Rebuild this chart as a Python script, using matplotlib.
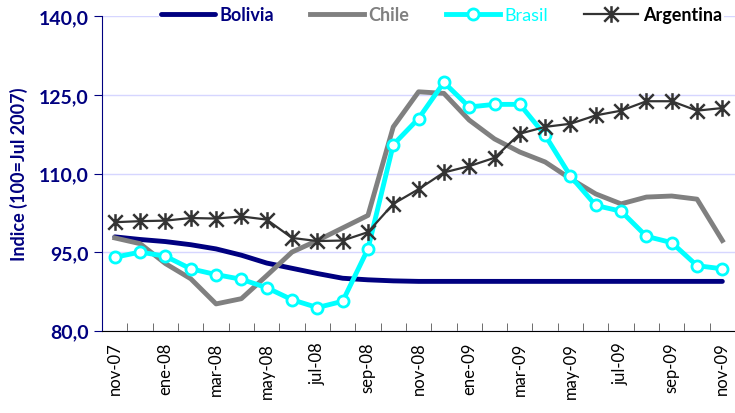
import numpy as np
import matplotlib.pyplot as plt
from matplotlib.path import Path

plt.rcParams['font.family'] = ['Lato', 'DejaVu Sans']

# months from nov-07 to nov-09
meses = ['nov-07', 'dic-07', 'ene-08', 'feb-08', 'mar-08', 'abr-08', 'may-08',
         'jun-08', 'jul-08', 'ago-08', 'sep-08', 'oct-08', 'nov-08', 'dic-08',
         'ene-09', 'feb-09', 'mar-09', 'abr-09', 'may-09', 'jun-09', 'jul-09',
         'ago-09', 'sep-09', 'oct-09', 'nov-09']
yticks = [80, 95, 110, 125, 140]

bolivia = [97.9, 97.4, 97.0, 96.4, 95.6, 94.4, 92.9, 91.9, 90.9, 90.0, 89.7,
           89.5, 89.4, 89.4, 89.4, 89.4, 89.4, 89.4, 89.4, 89.4, 89.4, 89.4,
           89.4, 89.4, 89.4]
chile = [97.7, 96.6, 92.8, 89.9, 85.1, 86.1, 90.5, 95.0, 97.2, 99.6, 102.0,
         118.9, 125.6, 125.3, 120.2, 116.6, 114.1, 112.2, 109.0, 106.1, 104.2,
         105.5, 105.7, 105.1, 97.2]
brasil = [94.0, 95.0, 94.2, 91.8, 90.7, 89.8, 88.2, 85.9, 84.4, 85.6, 95.6,
          115.5, 120.5, 127.4, 122.7, 123.2, 123.2, 117.3, 109.5, 103.9, 102.8,
          98.0, 96.8, 92.4, 91.8]
argentina = [100.7, 100.9, 101.0, 101.5, 101.4, 101.8, 101.2, 97.7, 97.1, 97.2,
             98.8, 104.2, 107.0, 110.2, 111.4, 113.0, 117.6, 118.9, 119.5, 121.1,
             122.0, 123.8, 123.8, 122.0, 122.5]

navy = '#000080'
gris = '#808080'
cian = '#00FFFF'
oscuro = '#333333'

# asterisk marker: vertical bar + two diagonals
star = Path([(0, -1), (0, 1), (-0.87, -0.87), (0.87, 0.87),
             (-0.87, 0.87), (0.87, -0.87)],
            [Path.MOVETO, Path.LINETO, Path.MOVETO, Path.LINETO,
             Path.MOVETO, Path.LINETO])

x = np.arange(len(meses))

fig = plt.figure(figsize=(7.35, 4.14), dpi=100)
ax = fig.add_axes([0.139, 0.199, 0.861, 0.759])

ax.plot(x, bolivia, color=navy, lw=3.5, label='Bolivia', solid_capstyle='round')
ax.plot(x, chile, color=gris, lw=3.5, label='Chile')
ax.plot(x, brasil, color=cian, lw=3.5, marker='o', ms=8, mfc='white',
        mec=cian, mew=2, label='Brasil')
ax.plot(x, argentina, color=oscuro, lw=1.6, marker=star, ms=12, mec=oscuro,
        mew=1.8, label='Argentina')

ax.set_xlim(-0.5, len(meses) - 0.5)
ax.set_ylim(80, 140)
ax.set_yticks(yticks)
ax.set_yticklabels([('%.1f' % v).replace('.', ',') for v in yticks],
                   fontweight='bold')
ax.grid(axis='y', color='#d6d6ff', lw=1)
ax.set_axisbelow(True)

ax.set_xticks(x[::2])
ax.set_xticklabels(meses[::2], rotation=90, fontsize=12)
ax.set_xticks(np.arange(-0.5, len(meses), 1), minor=True)
ax.tick_params(axis='x', which='major', length=0, pad=8)
ax.tick_params(axis='x', which='minor', direction='in', length=6, color='#555555')
ax.tick_params(axis='y', direction='out', length=6, color=navy, labelcolor=navy,
               labelsize=14)

ax.spines['top'].set_visible(False)
ax.spines['right'].set_visible(False)
ax.spines['left'].set_color(navy)
ax.spines['bottom'].set_color('black')

ax.set_ylabel('Indice (100=Jul 2007)', color=navy, fontsize=13,
              fontweight='bold', labelpad=8)

leg = fig.legend(loc='center left', bbox_to_anchor=(0.216, 0.962), ncol=4,
                 frameon=True, edgecolor='none', facecolor='white', framealpha=1,
                 fontsize=13, handlelength=3.0, columnspacing=2.0,
                 handletextpad=0.25, borderpad=0.1, borderaxespad=0)
cols = [navy, gris, cian, 'black']
weights = ['bold', 'bold', 'normal', 'bold']
for t, c, w in zip(leg.get_texts(), cols, weights):
    t.set_color(c)
    t.set_fontweight(w)

fig.savefig('out.png', dpi=100)
